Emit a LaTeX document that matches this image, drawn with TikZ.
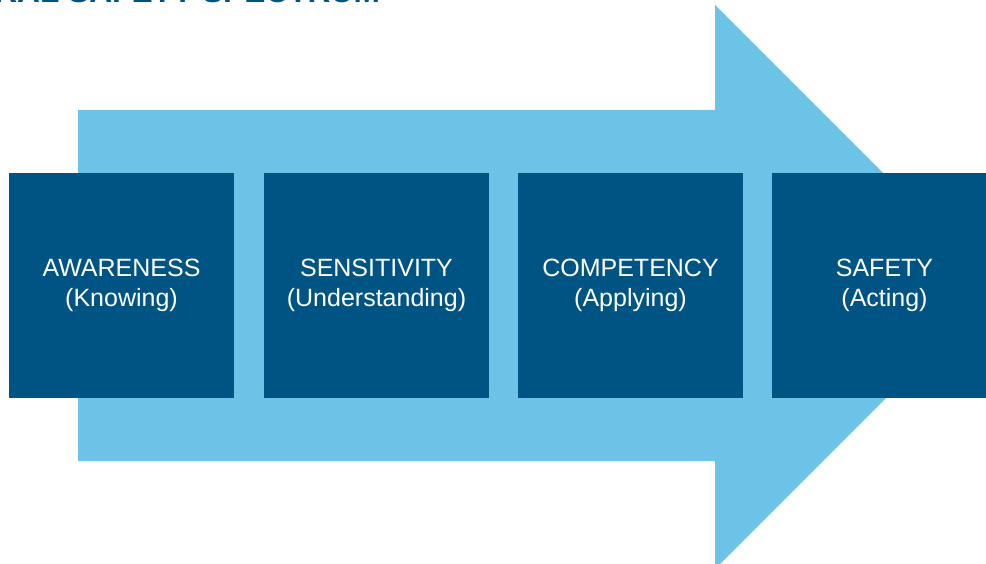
\documentclass[tikz,border=0pt]{standalone}
\usepackage{fontspec}
\setmainfont{Liberation Sans}
\definecolor{darkblue}{RGB}{0,84,131}
\definecolor{lightblue}{RGB}{108,195,231}
\tikzset{
  stagebox/.style={fill=darkblue, minimum width=225pt, minimum height=224pt, inner sep=0pt,
    align=center, text=white, font=\fontsize{25}{30.5}\selectfont},
  titletext/.style={anchor=base west, inner sep=0pt, text=darkblue,
    font=\fontsize{31.7}{36}\selectfont\bfseries}
}
\begin{document}
\begin{tikzpicture}[x=1pt,y=-1pt]
  \useasboundingbox (0,0) rectangle (986,564);
  \clip (0,0) rectangle (986,564);
  % title (cut off at the top)
  \node[titletext] (title) at (-111,3) {CULTURAL SAFETY SPECTRUM};
  % big arrow
  \coordinate (tl) at (78,110);
  \coordinate (tr) at (715,110);
  \coordinate (ht) at (715,5);
  \coordinate (tip) at (997,287);
  \coordinate (hb) at (715,569);
  \coordinate (br) at (715,461);
  \coordinate (bl) at (78,461);
  \fill[lightblue] (tl) -- (tr) -- (ht) -- (tip) -- (hb) -- (br) -- (bl) -- cycle;
  % stages
  \node[stagebox] (b1) at (121.5,285.5) {AWARENESS\\(Knowing)};
  \node[stagebox] (b2) at (376.5,285.5) {SENSITIVITY\\(Understanding)};
  \node[stagebox] (b3) at (630.5,285.5) {COMPETENCY\\(Applying)};
  \node[stagebox] (b4) at (884.5,285.5) {SAFETY\\(Acting)};
\end{tikzpicture}
\end{document}
